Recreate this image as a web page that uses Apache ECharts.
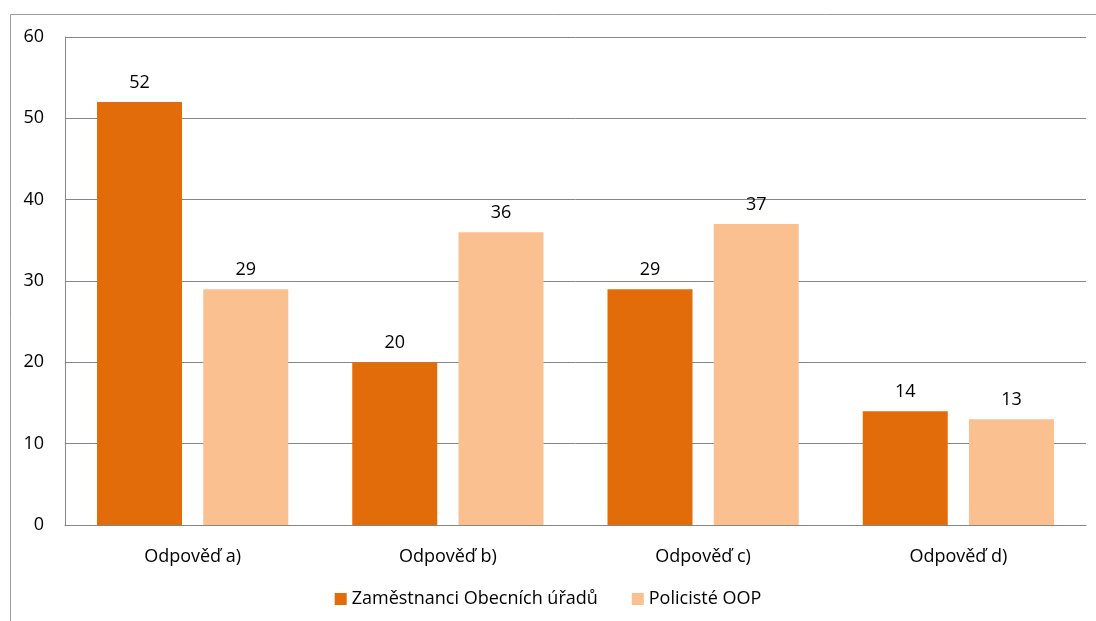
<!DOCTYPE html>
<html>
<head>
<meta charset="utf-8">
<script src="https://cdn.jsdelivr.net/npm/echarts@6/dist/echarts.min.js"></script>
<style>
  html, body { margin: 0; padding: 0; background: #fff; }
  #chart { width: 1096px; height: 621px; }
</style>
</head>
<body>
<div id="chart"></div>
<script>
var categories = ['Odpověď a)', 'Odpověď b)', 'Odpověď c)', 'Odpověď d)'];
var seriesNames = ['Zaměstnanci Obecních úřadů', 'Policisté OOP'];
var zamestnanci = [52, 20, 29, 14];
var policiste = [29, 36, 37, 13];

var font = 'Open Sans';
var chart = echarts.init(document.getElementById('chart'));

var option = {
  animation: false,
  textStyle: { fontFamily: font },
  graphic: [{
    type: 'rect',
    shape: { x: 10.5, y: 14.5, width: 1100, height: 640 },
    style: { fill: 'none', stroke: '#9a9a9a', lineWidth: 1 }
  }],
  grid: { left: 65, right: 10, top: 37, bottom: 96 },
  legend: {
    data: seriesNames,
    bottom: 8,
    left: 'center',
    itemWidth: 12,
    itemHeight: 12,
    itemGap: 34,
    icon: 'rect',
    textStyle: { fontFamily: font, fontSize: 18, color: '#000' }
  },
  xAxis: {
    type: 'category',
    data: categories,
    axisTick: { show: false },
    axisLine: { lineStyle: { color: '#868686' } },
    axisLabel: { fontFamily: font, fontSize: 18, color: '#000', margin: 23 }
  },
  yAxis: {
    type: 'value',
    min: 0,
    max: 60,
    interval: 10,
    axisLine: { show: true, lineStyle: { color: '#868686' } },
    axisTick: { show: false },
    splitLine: { lineStyle: { color: '#868686' } },
    axisLabel: { fontFamily: font, fontSize: 18, color: '#000', margin: 21 }
  },
  series: [
    {
      name: seriesNames[0],
      type: 'bar',
      data: zamestnanci,
      barWidth: 85,
      barGap: '25%',
      itemStyle: { color: '#E36C0A' },
      label: { show: true, position: 'top', distance: 10, fontFamily: font, fontSize: 18, color: '#000' }
    },
    {
      name: seriesNames[1],
      type: 'bar',
      data: policiste,
      barWidth: 85,
      barGap: '25%',
      itemStyle: { color: '#FAC090' },
      label: { show: true, position: 'top', distance: 10, fontFamily: font, fontSize: 18, color: '#000' }
    }
  ]
};

chart.setOption(option);
</script>
</body>
</html>
